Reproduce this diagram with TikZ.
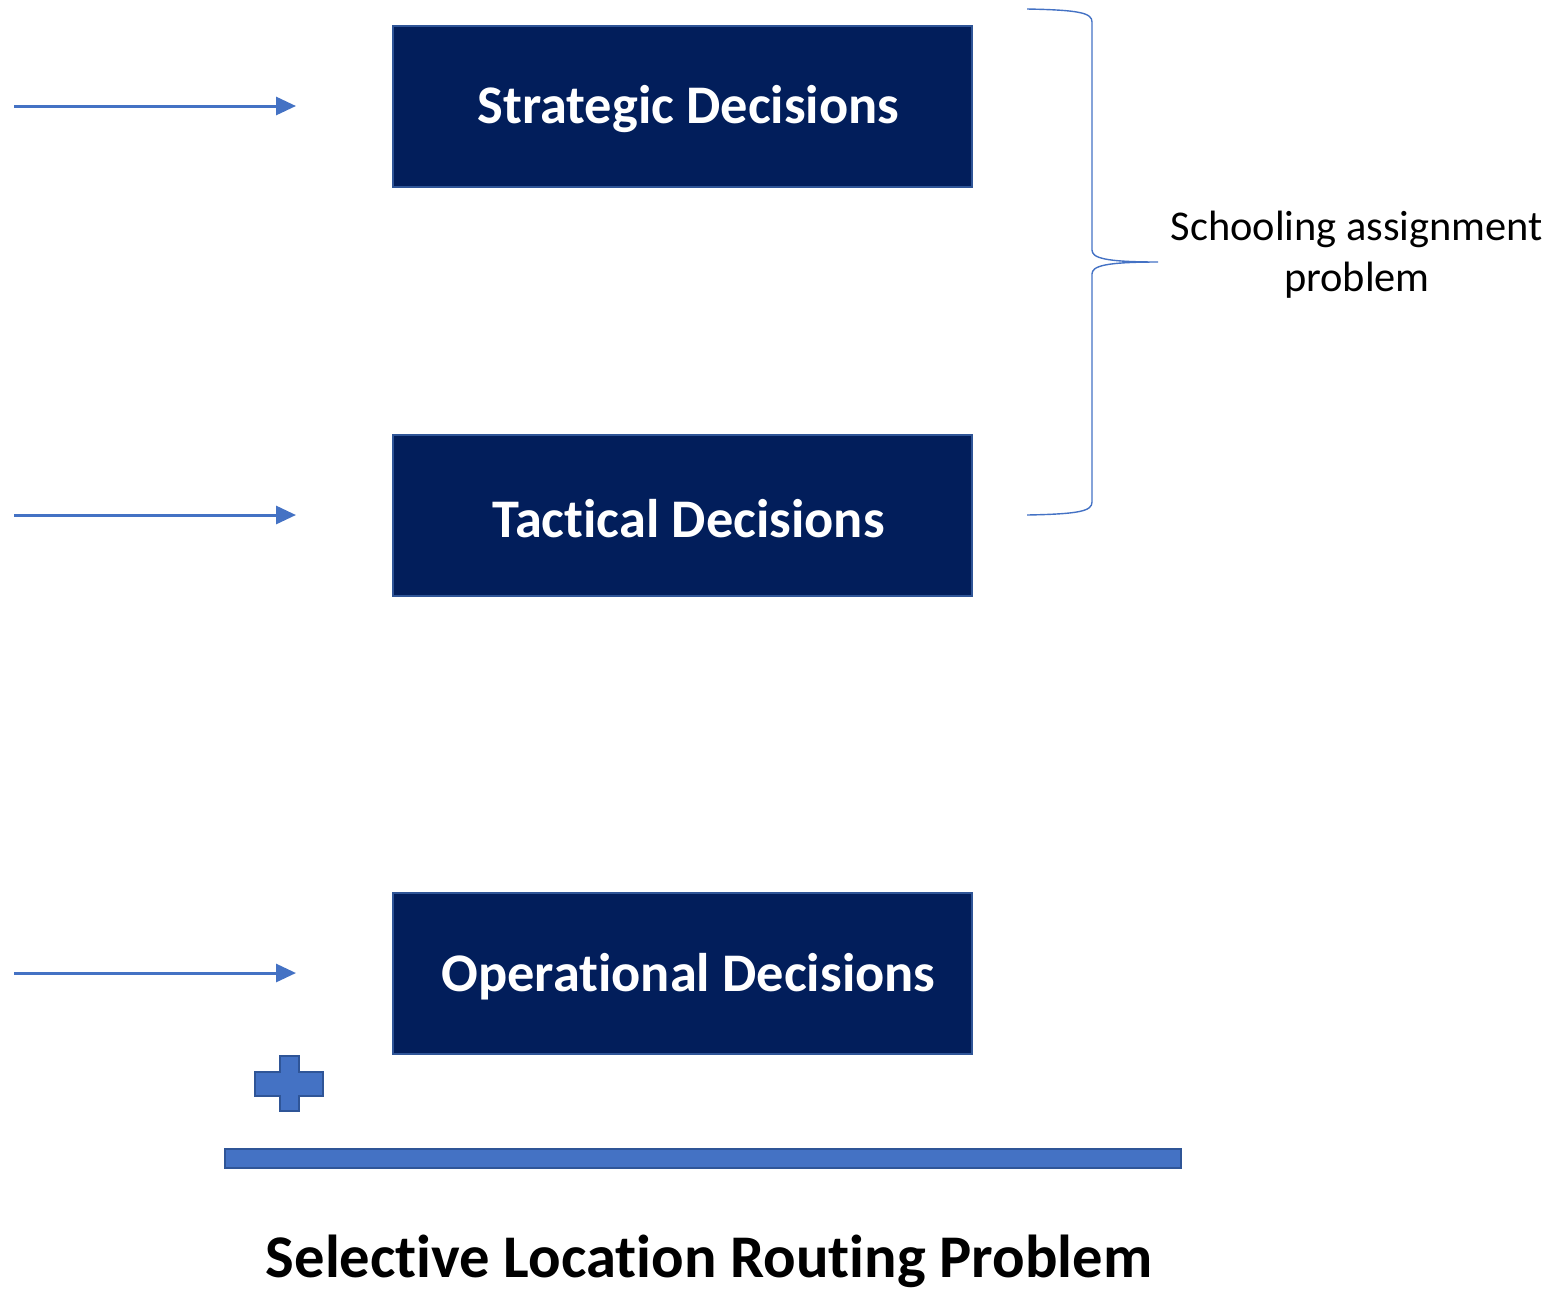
\documentclass[tikz,border=0pt]{standalone}
\usepackage{fontspec}
\setmainfont[Ligatures=NoCommon]{Carlito}
\usetikzlibrary{arrows.meta}
\definecolor{navy}{HTML}{021E5B}
\definecolor{edgeblue}{HTML}{2F5597}
\definecolor{lineblue}{HTML}{4472C4}
\tikzset{
  level/.style={draw=edgeblue, line width=1.2pt, fill=navy,
    minimum width=289.5pt, minimum height=80.5pt, inner sep=0pt},
  levellabel/.style={text=white, inner sep=0pt,
    font=\fontsize{27.2}{32}\selectfont\bfseries},
  feed/.style={draw=lineblue, line width=1.5pt, -{Triangle[length=10pt,width=9pt]}},
  brace/.style={draw=lineblue, line width=0.7pt},
  solid blue/.style={draw=edgeblue, line width=1.2pt, fill=lineblue},
}
\begin{document}
\begin{tikzpicture}[x=0.5pt, y=-0.5pt]
\useasboundingbox (0,0) rectangle (1551,1292);

% decision levels
\node[level] (strat) at (682.5,106.5) {};
\node[level] (tact)  at (682.5,515.5) {};
\node[level] (oper)  at (682.5,973.5) {};
\node[levellabel] (stratlbl) at ([xshift=3pt,yshift=-1.5pt]strat.center) {Strategic Decisions};
\node[levellabel] (tactlbl) at ([xshift=3pt,yshift=-1.5pt]tact.center) {Tactical Decisions};
\node[levellabel] (operlbl) at ([xshift=3pt,yshift=-1.5pt]oper.center) {Operational Decisions};

% incoming arrows
\coordinate (s0) at (14,106);  \coordinate (s1) at (296,106);
\coordinate (t0) at (14,515);  \coordinate (t1) at (296,515);
\coordinate (o0) at (14,973);  \coordinate (o1) at (296,973);
\draw[feed] (s0) -- (s1);
\draw[feed] (t0) -- (t1);
\draw[feed] (o0) -- (o1);

% curly brace grouping the first two levels
\coordinate (btop) at (1027,9);
\coordinate (bbot) at (1027,515);
\coordinate (btip) at (1158,262);
\draw[brace] (btop) .. controls (1080,10) and (1092,13) .. (1092,22)
  -- (1092,250) .. controls (1092,258) and (1105,262) .. (btip)
  .. controls (1105,262) and (1092,266) .. (1092,274)
  -- (1092,502) .. controls (1092,511) and (1080,514) .. (bbot);
\node[font=\fontsize{21.2}{25.5}\selectfont, align=center] (sap) at (1357,255)
  {Schooling assignment\\problem};

% plus sign
\path[solid blue] (255,1072) -- (280,1072) -- (280,1056) -- (299,1056) -- (299,1072)
  -- (323,1072) -- (323,1096) -- (299,1096) -- (299,1111) -- (280,1111)
  -- (280,1096) -- (255,1096) -- cycle;
\coordinate (plus) at (289,1083);

% underline bar
\node[solid blue, minimum width=478pt, minimum height=9.5pt, inner sep=0pt, anchor=north west] (bar) at (224,1148) {};

% caption
\node[inner sep=0pt, font=\fontsize{30.3}{36}\selectfont\bfseries] (title) at (709,1261) {Selective Location Routing Problem};
\end{tikzpicture}
\end{document}
